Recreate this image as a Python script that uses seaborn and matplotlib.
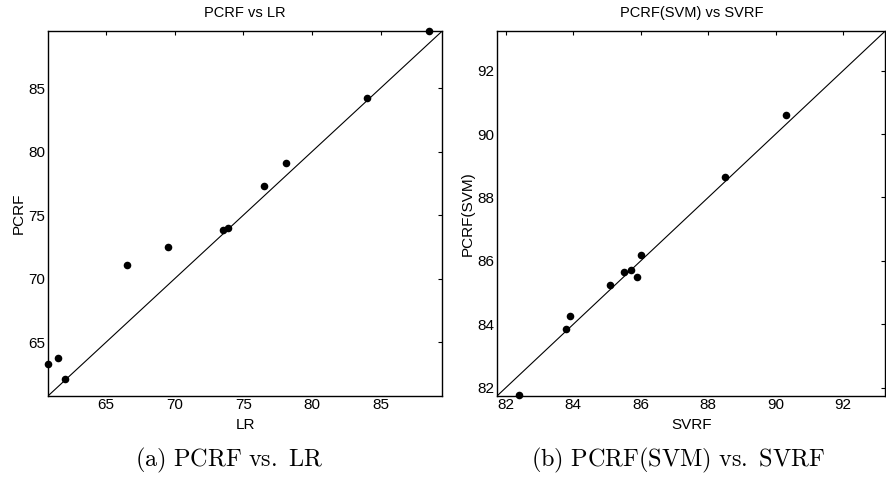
import matplotlib
matplotlib.use("Agg")
import matplotlib.pyplot as plt
import seaborn as sns
import pandas as pd

# (a) PCRF vs LR
lr = [88.5, 84.0, 78.1, 76.5, 73.9, 73.5, 69.5, 66.5, 61.5, 60.8, 62.0]
pcrf = [89.5, 84.2, 79.1, 77.3, 74.0, 73.8, 72.5, 71.1, 63.8, 63.3, 62.1]

# (b) PCRF(SVM) vs SVRF
svrf = [90.3, 88.5, 86.0, 85.5, 85.7, 85.9, 85.1, 83.9, 83.8, 82.4]
pcrf_svm = [90.6, 88.65, 86.2, 85.65, 85.7, 85.5, 85.25, 84.25, 83.86, 81.76]

lims_a = (60.8, 89.5)
lims_b = (81.75, 93.25)
ticks_a = [65, 70, 75, 80, 85]
ticks_b = [82, 84, 86, 88, 90, 92]

sns.set_style("white")
plt.rcParams['font.family'] = ['Liberation Sans', 'DejaVu Sans']
plt.rcParams['mathtext.fontset'] = 'cm'
plt.rcParams['text.color'] = 'black'
plt.rcParams['axes.labelcolor'] = 'black'

fig = plt.figure(figsize=(8.86, 4.78), dpi=100)
ax1 = fig.add_axes([0.0545, 0.1722, 0.4447, 0.763])
ax2 = fig.add_axes([0.5613, 0.1722, 0.4379, 0.763])


def draw_panel(ax, x, y, xname, yname, lims, ticks, title, caption, cap_x):
    df = pd.DataFrame({xname: x, yname: y})
    ax.plot(lims, lims, color="black", lw=0.8, zorder=1)
    sns.scatterplot(data=df, x=xname, y=yname, ax=ax, color="black",
                    s=30, edgecolor="black", linewidth=0, zorder=3, clip_on=False)
    ax.set_xlim(lims)
    ax.set_ylim(lims)
    ax.set_xticks(ticks)
    ax.set_yticks(ticks)
    ax.tick_params(direction="in", length=3, width=0.8, top=True, right=True,
                   labelsize=11, pad=2, colors="black")
    for sp in ax.spines.values():
        sp.set_color("black")
        sp.set_linewidth(1.0)
        sp.set_visible(True)
    ax.set_xlabel(xname, fontsize=11, labelpad=4)
    ax.set_ylabel(yname, fontsize=11, labelpad=2)
    ax.set_title(title, fontsize=10.5, pad=10)
    # subfigure caption, centred on the whole panel incl. the y label
    ax.text(cap_x, -0.178, caption, transform=ax.transAxes, ha="center",
            va="center", fontsize=17.5)


draw_panel(ax1, lr, pcrf, "LR", "PCRF", lims_a, ticks_a,
           "PCRF vs LR", r"$\mathrm{(a)\ PCRF\ vs.\ LR}$", 0.46)
draw_panel(ax2, svrf, pcrf_svm, "SVRF", "PCRF(SVM)", lims_b, ticks_b,
           "PCRF(SVM) vs SVRF", r"$\mathrm{(b)\ PCRF(SVM)\ vs.\ SVRF}$", 0.467)

fig.savefig("out.png", dpi=100)
